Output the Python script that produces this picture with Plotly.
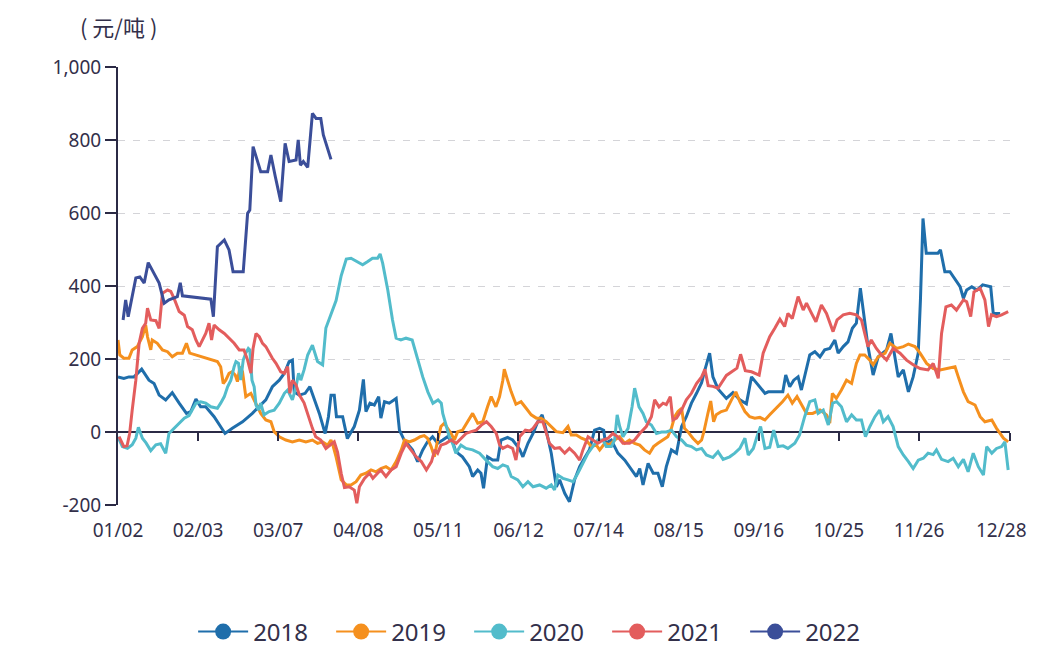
import plotly.graph_objects as go

# ---------------- data (x = trading-day index from 01/02, y = 元/吨) ----------------
tick_labels = ["01/02", "02/03", "03/07", "04/08", "05/11", "06/12", "07/14",
               "08/15", "09/16", "10/25", "11/26", "12/28"]
tick_pos = [0, 22, 44, 66, 88, 110, 132, 154, 176, 198, 220, 242.6]
tick_marks = [22, 44, 66, 88, 110, 132, 154, 176, 198, 220, 245]
x_max = 245

years = ["2018", "2019", "2020", "2021", "2022"]
colors = ["#1f6eab", "#f5901e", "#52bccb", "#e35d5d", "#3b4e99"]

x2018 = [0, 1.6, 3.0, 4.4, 6.5, 8.5, 9.9, 11.3, 13.1, 14.9, 16.8, 18.8, 20.0, 21.4, 22.7, 24.1,
         26.4, 28.0, 29.4, 31.4, 34.2, 36.9, 38.6, 40.6, 42.4, 44.3, 45.7, 47.0, 47.9, 48.4, 49.8,
         51.4, 52.7, 53.9, 55.3, 56.9, 57.8, 58.5, 59.4, 60.0, 61.7, 63.0, 64.9, 66.3, 67.4, 68.1,
         69.2, 70.4, 71.6, 72.2, 73.2, 74.5, 76.4, 77.3, 78.6, 80.9, 82.3, 83.7, 85.0, 86.4, 87.8,
         89.2, 90.5, 91.9, 92.8, 94.6, 96.5, 97.4, 98.8, 99.7, 100.4, 101.5, 102.9, 104.3, 105.2,
         107.0, 108.4, 110.3, 111.2, 112.6, 114.0, 115.3, 116.5, 117.6, 119.0, 120.4, 121.3, 122.7,
         124.0, 125.4, 126.8, 128.1, 129.5, 130.9, 132.3, 133.4, 133.9, 135.5, 137.3, 139.2, 141.0,
         142.4, 143.3, 144.2, 145.6, 147.0, 148.3, 149.5, 150.6, 152.0, 153.4, 154.8, 156.1, 157.5,
         158.9, 160.3, 161.2, 162.5, 163.4, 164.8, 167.1, 168.9, 170.8, 172.6, 174.0, 175.8, 177.7,
         178.6, 180.4, 181.3, 182.6, 183.4, 184.5, 185.6, 186.8, 187.7, 188.9, 190.0, 191.4, 192.8,
         194.1, 195.5, 196.9, 197.8, 199.2, 200.5, 201.7, 202.8, 203.9, 204.8, 206.0, 207.4, 208.8,
         210.0, 211.1, 212.3, 213.4, 214.3, 215.7, 217.1, 218.4, 219.8, 220.4, 221.1, 222.0, 223.9,
         225.2, 225.9, 227.1, 228.5, 229.4, 231.3, 232.2, 233.1, 234.5, 235.9, 237.5, 239.7, 240.4,
         242.3]
y2018 = [151, 147, 151, 151, 172, 142, 133, 101, 88, 108, 79, 51, 56, 90, 69, 69,
         42, 17, -4, 10, 28, 51, 69, 88, 124, 142, 161, 193, 197, 110, 101,
         106, 124, 92, 51, -4, 42, 101, 101, 42, 42, -18, 15, 60, 144, 56,
         79, 74, 97, 38, 83, 79, 92, 5, -22, -49, -81, -49, -27, -13, -31,
         -22, -13, -27, -54, -68, -95, -122, -104, -113, -154, -68, -77, -77, -22,
         -15, -22, -47, -68, -31, -4, 28, 47, 5, -58, -150, -131, -168,
         -191, -131, -95, -72, -49, 5, 10, 5, -31, -22, -58, -77, -104,
         -122, -100, -145, -86, -113, -113, -150, -95, -49, -58, 15, 42, 79,
         106, 135, 170, 216, 151, 118, 92, 108, 88, 77, 151, 129, 106,
         110, 110, 108, 110, 156, 124, 142, 151, 115, 161, 211, 220, 206,
         225, 229, 252, 216, 234, 247, 284, 298, 394, 325, 234, 156, 206,
         216, 225, 270, 206, 151, 170, 110, 151, 216, 362, 585, 490, 490,
         490, 499, 439, 439, 425, 398, 366, 389, 398, 389, 403, 398, 325,
         325]

x2019 = [0, 0.5, 1.6, 3.0, 3.9, 5.3, 6.7, 7.6, 8.1, 9.0, 9.4, 10.8, 12.2, 13.6, 14.9, 16.3,
         17.7, 18.8, 19.7, 21.4, 22.7, 24.1, 25.9, 27.3, 28.2, 28.9, 29.6, 30.5, 31.3, 32.2, 32.8,
         33.5, 34.2, 35.1, 36.5, 37.4, 38.3, 39.2, 40.6, 42.0, 42.9, 44.3, 46.1, 47.9, 49.8, 51.6,
         53.4, 54.8, 56.2, 57.6, 58.5, 59.0, 59.9, 60.8, 61.3, 62.7, 64.0, 65.4, 66.7, 68.1, 69.5,
         70.9, 72.2, 73.6, 75.0, 76.4, 77.8, 78.7, 80.0, 81.4, 83.0, 84.1, 85.0, 86.0, 86.9, 87.8,
         88.7, 89.6, 90.5, 91.5, 92.4, 93.3, 94.6, 96.0, 97.4, 98.8, 100.2, 101.5, 102.5, 103.8,
         104.8, 105.7, 106.1, 107.0, 108.0, 109.3, 110.7, 112.1, 113.5, 114.9, 116.2, 117.6, 119.0,
         120.4, 122.2, 123.6, 124.5, 125.9, 127.3, 128.6, 130.0, 131.4, 132.3, 133.7, 135.0, 136.4,
         137.8, 139.2, 140.5, 141.9, 143.3, 144.6, 146.0, 147.1, 148.3, 149.7, 151.0, 152.0, 152.9,
         153.8, 154.8, 155.6, 156.5, 157.9, 159.3, 160.3, 160.9, 162.0, 162.8, 163.6, 164.3, 165.7,
         167.1, 168.5, 169.7, 170.8, 172.2, 173.5, 174.9, 176.3, 177.7, 179.0, 180.8, 182.5, 184.0,
         185.2, 186.5, 187.7, 189.1, 190.8, 192.8, 194.6, 195.5, 196.2, 197.3, 198.7, 200.1, 201.5,
         202.8, 203.8, 205.1, 206.5, 207.4, 208.8, 210.7, 212.0, 213.9, 215.7, 217.1, 218.9, 220.3,
         222.1, 223.9, 225.8, 228.1, 229.9, 230.8, 232.2, 233.5, 235.4, 236.8, 238.1, 240.0, 241.3,
         243.2, 244.5]
y2019 = [252, 211, 202, 202, 225, 234, 261, 293, 261, 225, 252, 243, 225, 220, 206, 216,
         216, 243, 216, 211, 206, 202, 197, 193, 179, 133, 142, 161, 165, 156, 138,
         179, 165, 97, 106, 88, 69, 51, 33, 28, 1, -13, -22, -27, -22, -27,
         -22, -31, -27, -36, -22, -35, -68, -113, -131, -145, -145, -136, -118, -113, -104,
         -109, -100, -95, -104, -81, -49, -22, -27, -22, -13, -10, -17, -40, -68, -22,
         15, 24, 10, -4, -22, 1, 5, 28, 51, 24, 28, 69, 97, 69,
         97, 142, 172, 142, 110, 76, 83, 65, 47, 38, 38, 28, 15,
         1, -2, 15, -8, -8, -17, -22, -40, -36, -49, -31, -35, -22,
         -13, -31, -22, -31, -36, -49, -58, -40, -31, -22, -13, 10, 42,
         56, 65, 10, 1, -17, -31, -22, 0, 50, 85, 28, 47, 56,
         60, 88, 110, 83, 56, 42, 38, 40, 33, 47, 65, 83, 101,
         79, 97, 74, 51, 51, 60, 47, 24, 106, 92, 115, 142, 133,
         188, 211, 211, 197, 184, 206, 216, 243, 229, 234, 241, 234, 216,
         188, 174, 170, 174, 179, 151, 110, 83, 74, 42, 28, 33, 10,
         -17, -27]

x2020 = [0, 1.2, 2.6, 3.9, 4.9, 5.6, 6.7, 7.7, 9.0, 10.4, 11.7, 13.1, 14.0, 15.4, 16.8, 18.2,
         19.5, 21.4, 22.7, 24.1, 25.5, 27.3, 28.2, 29.2, 30.1, 31.0, 31.9, 32.4, 33.1, 33.7, 34.4,
         35.1, 35.8, 36.2, 36.8, 37.4, 37.9, 38.6, 39.2, 40.1, 41.5, 42.9, 44.3, 45.7, 46.6, 47.9,
         48.9, 49.6, 50.2, 51.1, 52.1, 53.4, 54.8, 56.2, 57.1, 58.5, 59.9, 61.3, 62.7, 64.0, 65.8,
         67.2, 68.6, 69.9, 71.3, 72.0, 72.7, 74.1, 75.4, 76.4, 77.7, 79.1, 80.8, 82.3, 83.7, 85.1,
         86.5, 87.9, 88.8, 89.2, 90.1, 91.0, 91.9, 92.8, 94.2, 95.6, 97.4, 99.3, 101.1, 102.9, 104.3,
         105.7, 107.0, 108.0, 109.8, 111.2, 112.6, 114.0, 115.8, 117.6, 119.0, 119.9, 120.8, 122.2,
         123.6, 125.0, 126.3, 127.7, 129.1, 130.4, 131.8, 133.2, 134.1, 135.5, 136.4, 137.1, 137.8,
         138.7, 140.1, 141.2, 141.9, 143.1, 144.2, 145.1, 146.5, 147.9, 149.3, 150.6, 152.0, 153.4,
         154.8, 156.1, 157.5, 158.9, 160.3, 161.6, 163.4, 164.8, 166.2, 168.0, 169.4, 170.8, 172.2,
         173.1, 174.5, 175.5, 176.5, 177.7, 179.0, 180.1, 181.3, 182.7, 184.0, 185.9, 187.2, 188.6,
         190.0, 191.4, 192.3, 193.7, 195.1, 196.3, 197.4, 198.7, 200.1, 201.5, 202.8, 204.2, 205.3,
         206.5, 207.9, 209.2, 210.2, 211.5, 212.9, 214.3, 215.7, 217.1, 218.4, 219.8, 221.2, 222.5,
         223.9, 224.8, 226.2, 228.0, 229.4, 230.8, 232.2, 233.5, 234.9, 236.3, 237.7, 238.6, 240.0,
         241.3, 242.7, 243.6, 244.5]
y2020 = [-13, -40, -45, -35, -17, 13, -17, -30, -51, -35, -32, -58, -4, 10, 24, 38,
         45, 79, 83, 79, 69, 65, 79, 97, 124, 142, 179, 193, 188, 142, 197,
         216, 229, 225, 142, 124, 74, 60, 79, 47, 56, 60, 79, 106, 115, 88,
         124, 161, 142, 170, 211, 238, 193, 184, 285, 323, 360, 428, 474, 476, 467,
         458, 467, 476, 476, 488, 462, 389, 307, 257, 252, 257, 252, 197, 151, 110,
         79, 88, 79, 51, 15, -13, -31, -58, -36, -45, -49, -58, -77, -95, -100,
         -90, -95, -122, -131, -150, -136, -150, -145, -154, -145, -159, -118, -127,
         -131, -136, -113, -86, -58, -40, -22, -22, -40, -40, -22, 47, 15,
         -13, 10, 69, 120, 69, 51, 28, 19, -4, 0, 0, 5, -13,
         -22, -36, -40, -49, -45, -63, -70, -54, -75, -68, -58, -45, -17,
         -63, -45, -13, 15, -45, -42, 5, -40, -38, -45, -31, -8, 42,
         83, 88, 51, 60, 19, 79, 83, 69, 28, 47, 33, 33, -13,
         15, 42, 60, 28, 42, 15, -40, -63, -81, -100, -77, -72, -58,
         -62, -49, -75, -81, -72, -95, -75, -109, -58, -95, -118, -40, -58,
         -45, -40, -27, -104]

x2021 = [0.3, 1.6, 2.5, 3.2, 3.9, 4.9, 5.8, 6.7, 7.6, 8.1, 9.0, 10.4, 11.3, 12.2, 13.6, 14.5,
         15.4, 16.8, 18.2, 19.1, 20.4, 21.4, 22.3, 23.2, 24.1, 25.0, 25.7, 26.4, 27.8, 29.2, 30.5,
         31.9, 33.3, 34.6, 35.6, 36.5, 37.1, 37.9, 38.8, 39.7, 40.6, 41.5, 42.4, 43.4, 44.7, 45.7,
         46.6, 47.2, 47.9, 48.9, 49.8, 51.1, 52.3, 53.4, 54.3, 55.7, 57.1, 58.5, 59.4, 60.3, 61.3,
         62.2, 63.5, 64.9, 65.6, 66.3, 67.7, 69.1, 70.0, 71.3, 72.2, 73.6, 75.0, 76.4, 77.8, 79.1,
         80.5, 81.9, 83.3, 84.7, 86.1, 87.0, 87.8, 88.7, 90.1, 91.5, 92.9, 94.3, 95.6, 97.0, 98.4,
         99.8, 101.2, 102.5, 103.9, 104.8, 105.7, 107.0, 108.4, 109.3, 110.3, 111.9, 113.1, 114.0,
         115.3, 116.7, 117.6, 118.5, 119.9, 121.3, 122.7, 124.0, 125.4, 126.8, 127.7, 129.1, 130.4,
         131.8, 133.2, 134.6, 135.9, 137.3, 138.7, 140.5, 141.9, 143.3, 145.1, 146.5, 147.4, 148.6,
         149.7, 150.6, 151.7, 152.4, 153.4, 154.8, 156.1, 157.5, 158.9, 160.3, 161.2, 162.1, 163.4,
         164.8, 167.1, 168.9, 170.0, 171.0, 172.3, 174.0, 176.1, 177.2, 179.0, 180.4, 181.8, 183.1,
         184.0, 185.2, 186.8, 188.2, 189.1, 190.5, 191.7, 193.2, 194.6, 196.4, 197.5, 199.2, 201.0,
         202.8, 204.2, 205.1, 206.0, 206.9, 208.3, 209.7, 211.1, 212.9, 214.8, 216.6, 218.4, 220.3,
         222.5, 223.9, 225.3, 226.2, 227.4, 228.9, 230.3, 232.2, 233.1, 234.2, 235.1, 236.8, 238.1,
         239.1, 239.9, 241.3, 242.7, 244.5]
y2021 = [-13, -40, -38, -4, 60, 142, 243, 284, 298, 339, 307, 305, 284, 380, 389, 385,
         366, 330, 320, 289, 280, 252, 234, 252, 270, 298, 252, 293, 280, 270, 257,
         243, 225, 225, 197, 161, 229, 270, 261, 243, 234, 216, 202, 188, 165, 161,
         179, 106, 142, 129, 102, 80, 42, 10, -13, -22, -45, -35, -27, -55, -113,
         -152, -150, -159, -195, -150, -127, -113, -127, -113, -104, -122, -104, -95, -58, -31,
         -49, -68, -81, -104, -81, -49, -58, -36, -31, -22, -31, -17, -4, 1, 5,
         19, 28, 15, -4, -35, -45, -38, -45, -77, -13, 5, 3, 10,
         28, 28, -4, -31, -45, -43, -58, -45, -58, -77, -49, -13, -22,
         -31, -22, -17, -4, -13, -31, -31, -22, -4, 15, 42, 88, 69,
         79, 75, 97, 33, 38, 60, 88, 106, 133, 151, 172, 127, 125,
         120, 155, 168, 175, 213, 168, 165, 156, 216, 261, 284, 309, 289,
         325, 311, 371, 334, 353, 325, 302, 348, 325, 275, 307, 321, 325,
         321, 307, 270, 234, 252, 229, 211, 197, 229, 216, 197, 184, 174,
         170, 188, 147, 270, 343, 348, 334, 362, 357, 316, 384, 394, 362,
         289, 321, 316, 321, 330]

x2022 = [1.4, 2.1, 2.8, 3.5, 4.9, 6.0, 7.2, 8.3, 9.9, 11.3, 12.7, 14.0, 16.3, 17.1, 17.7, 25.5,
         26.2, 27.3, 29.2, 30.5, 31.6, 34.4, 35.6, 36.2, 37.1, 39.2, 41.1, 42.0, 43.2, 44.7, 45.9,
         47.0, 48.9, 49.5, 50.1, 50.9, 52.1, 53.4, 54.4, 55.7, 56.4, 58.5]
y2022 = [307, 362, 316, 353, 422, 425, 408, 464, 435, 408, 353, 362, 371, 409, 373, 364,
         316, 508, 526, 499, 439, 439, 599, 608, 782, 713, 713, 759, 700, 631, 791,
         741, 745, 800, 731, 741, 725, 873, 859, 859, 814, 747]

y_ticks = [-200, 0, 200, 400, 600, 800, 1000]
y_tick_text = ["-200", "0", "200", "400", "600", "800", "1,000"]
unit_label = "( 元/吨 )"

series_x = [x2018, x2019, x2020, x2021, x2022]
series_y = [y2018, y2019, y2020, y2021, y2022]

# ---------------- figure ----------------
AX = "#2b2a45"
TXT = "#33304a"
FONT = "Noto Sans"

fig = go.Figure()
for name, col, xs, ys in zip(years, colors, series_x, series_y):
    fig.add_trace(go.Scatter(x=xs, y=ys, mode="lines", name=name, showlegend=False,
                             line=dict(color=col, width=3), hoverinfo="x+y"))
# legend entries
for name, col in zip(years, colors):
    fig.add_trace(go.Scatter(x=[None], y=[None], mode="lines+markers", name=name,
                             xaxis="x2", line=dict(color=col, width=2),
                             marker=dict(color=col, size=22, symbol="circle")))

fig.update_layout(
    width=1050, height=668,
    margin=dict(l=110, r=48, t=59, b=171),
    paper_bgcolor="white", plot_bgcolor="white",
    font=dict(family=FONT, size=19, color=TXT),
    xaxis=dict(range=[0, x_max], tickmode="array", tickvals=tick_pos, ticktext=tick_labels,
               showgrid=False, zeroline=False, showline=False, ticks="",
               tickfont=dict(family=FONT, size=19, color=TXT), ticklabelstandoff=12),
    xaxis2=dict(range=[0, x_max], overlaying="x", anchor="free", position=1 / 6,
                tickmode="array", tickvals=tick_marks, showticklabels=False,
                ticks="outside", ticklen=8, tickwidth=1.5, tickcolor=AX,
                showgrid=False, zeroline=False, showline=False),
    yaxis=dict(range=[-200, 1000], tickmode="array", tickvals=y_ticks, ticktext=y_tick_text,
               showline=True, linecolor=AX, linewidth=2, ticks="outside", ticklen=11,
               tickwidth=1.5, tickcolor=AX, showgrid=True, gridcolor="#d4d4d8",
               griddash="7px,8px", gridwidth=1, zeroline=True, zerolinecolor=AX,
               zerolinewidth=1.6, tickfont=dict(family=FONT, size=19, color=TXT)),
    legend=dict(orientation="h", x=0.471, xanchor="center", y=-0.29, yanchor="middle",
                font=dict(family=FONT, size=24, color=TXT), itemwidth=50,
                entrywidth=73, entrywidthmode="pixels", itemsizing="trace"),
    annotations=[dict(text=unit_label, xref="paper", yref="paper", x=-0.045, y=1.093,
                      xanchor="left", yanchor="middle", showarrow=False,
                      font=dict(family="Noto Sans CJK SC", size=22, color=TXT))],
    showlegend=True,
)

fig.write_html("out.html")
